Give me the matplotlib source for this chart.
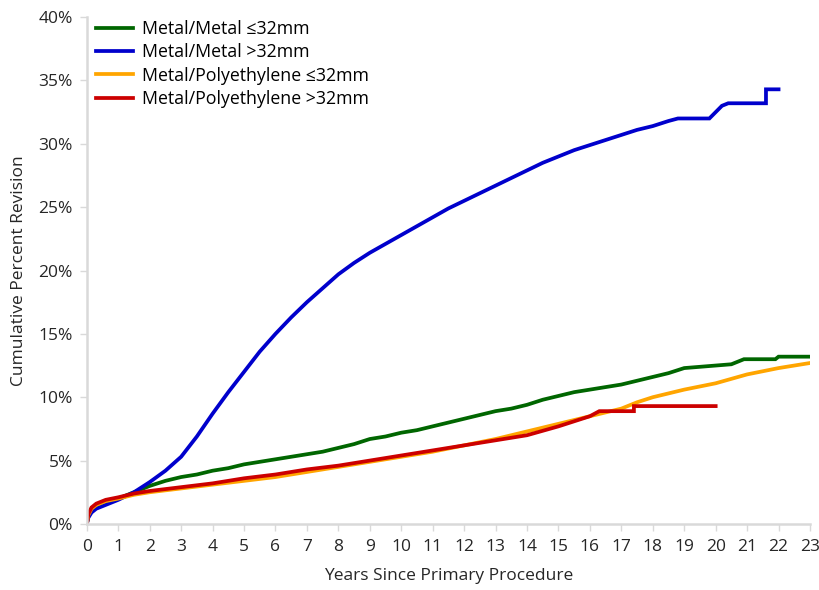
import matplotlib
matplotlib.use("Agg")
import matplotlib.pyplot as plt
from matplotlib.ticker import FuncFormatter, MultipleLocator

plt.rcParams['font.family'] = ['Open Sans', 'DejaVu Sans']

# cumulative percent revision by years since primary procedure
mm_small_years = [0, 0.05, 0.15, 0.3, 0.6, 1.0, 1.5, 2.0, 2.5, 3.0, 3.5, 4.0, 4.5, 5.0, 5.5, 6.0,
                  6.5, 7.0, 7.5, 8.0, 8.5, 9.0, 9.5, 10, 10.5, 11, 11.5, 12, 12.5, 13, 13.5, 14,
                  14.5, 15, 15.5, 16, 16.5, 17, 17.5, 18, 18.5, 19, 20, 20.5, 20.9, 21.9, 22.0, 23]
mm_small_pct = [0, 0.6, 1.1, 1.5, 1.8, 2.0, 2.5, 3.0, 3.4, 3.7, 3.9, 4.2, 4.4, 4.7, 4.9, 5.1,
                5.3, 5.5, 5.7, 6.0, 6.3, 6.7, 6.9, 7.2, 7.4, 7.7, 8.0, 8.3, 8.6, 8.9, 9.1, 9.4,
                9.8, 10.1, 10.4, 10.6, 10.8, 11.0, 11.3, 11.6, 11.9, 12.3, 12.5, 12.6, 13.0, 13.0, 13.2, 13.2]

mm_large_years = [0, 0.05, 0.15, 0.3, 0.6, 1.0, 1.5, 2.0, 2.5, 3.0, 3.5, 4.0, 4.5, 5.0, 5.5, 6.0,
                  6.5, 7.0, 7.5, 8.0, 8.5, 9.0, 9.5, 10, 10.5, 11, 11.5, 12, 12.5, 13, 13.5, 14,
                  14.5, 15, 15.5, 16, 16.5, 17, 17.5, 18, 18.5, 18.8, 19.8, 20.2, 20.4, 21.6, 21.6, 22.0]
mm_large_pct = [0, 0.5, 0.9, 1.2, 1.5, 1.9, 2.5, 3.3, 4.2, 5.3, 6.9, 8.7, 10.4, 12.0, 13.6, 15.0,
                16.3, 17.5, 18.6, 19.7, 20.6, 21.4, 22.1, 22.8, 23.5, 24.2, 24.9, 25.5, 26.1, 26.7, 27.3, 27.9,
                28.5, 29.0, 29.5, 29.9, 30.3, 30.7, 31.1, 31.4, 31.8, 32.0, 32.0, 33.0, 33.2, 33.2, 34.3, 34.3]

mp_small_years = [0, 0.05, 0.15, 0.3, 0.6, 1.0, 1.5, 2.0, 3, 4, 5, 6, 7, 8, 9, 10, 11, 12, 13,
                  14, 15, 16, 17, 17.5, 18, 19, 20, 21, 22, 23]
mp_small_pct = [0, 0.7, 1.2, 1.5, 1.8, 2.0, 2.3, 2.5, 2.8, 3.1, 3.4, 3.7, 4.1, 4.5, 4.9, 5.3, 5.7, 6.2, 6.7,
                7.3, 7.9, 8.5, 9.1, 9.6, 10.0, 10.6, 11.1, 11.8, 12.3, 12.7]

mp_large_years = [0, 0.05, 0.15, 0.3, 0.6, 1.0, 1.5, 2.0, 3, 4, 5, 6, 7, 8, 9, 10, 11, 12, 13,
                  14, 15, 16, 16.3, 17.4, 17.4, 20.0]
mp_large_pct = [0, 0.8, 1.3, 1.6, 1.9, 2.1, 2.4, 2.6, 2.9, 3.2, 3.6, 3.9, 4.3, 4.6, 5.0, 5.4, 5.8, 6.2, 6.6,
                7.0, 7.7, 8.5, 8.9, 8.9, 9.3, 9.3]

labels = ['Metal/Metal \u226432mm', 'Metal/Metal >32mm',
          'Metal/Polyethylene \u226432mm', 'Metal/Polyethylene >32mm']
colors = ['#006600', '#0000cc', '#ffa500', '#cc0000']
series = [(mm_small_years, mm_small_pct), (mm_large_years, mm_large_pct),
          (mp_small_years, mp_small_pct), (mp_large_years, mp_large_pct)]

fig = plt.figure(figsize=(8.19, 5.90), dpi=100)
ax = fig.add_axes([0.106, 0.112, 0.883, 0.859])

for (xs, ys), c, lab in zip(series, colors, labels):
    ax.plot(xs, ys, color=c, lw=2.7, label=lab, solid_joinstyle='miter')

ax.set_xlim(0, 23)
ax.set_ylim(0, 40)
ax.xaxis.set_major_locator(MultipleLocator(1))
ax.yaxis.set_major_locator(MultipleLocator(5))
ax.yaxis.set_major_formatter(FuncFormatter(lambda v, p: f"{v:.0f}%"))

for s in ['top', 'right']:
    ax.spines[s].set_visible(False)
for s in ['left', 'bottom']:
    ax.spines[s].set_color('#d9d9d9')
    ax.spines[s].set_linewidth(1.8)
ax.tick_params(axis='both', colors='#d9d9d9', labelcolor='#262626', labelsize=12.5,
               length=5, width=1)
ax.tick_params(axis='x', pad=6)
ax.tick_params(axis='y', pad=5)

ax.set_xlabel('Years Since Primary Procedure', fontsize=12.5, color='#262626', labelpad=9)
ax.set_ylabel('Cumulative Percent Revision', fontsize=12.5, color='#262626', labelpad=8)

ax.legend(loc='upper left', bbox_to_anchor=(0.0, 1.012), frameon=False, fontsize=12.8,
          handlelength=2.1, handletextpad=0.5, labelspacing=0.3, borderaxespad=0.1)

fig.savefig('out.png', dpi=100)
